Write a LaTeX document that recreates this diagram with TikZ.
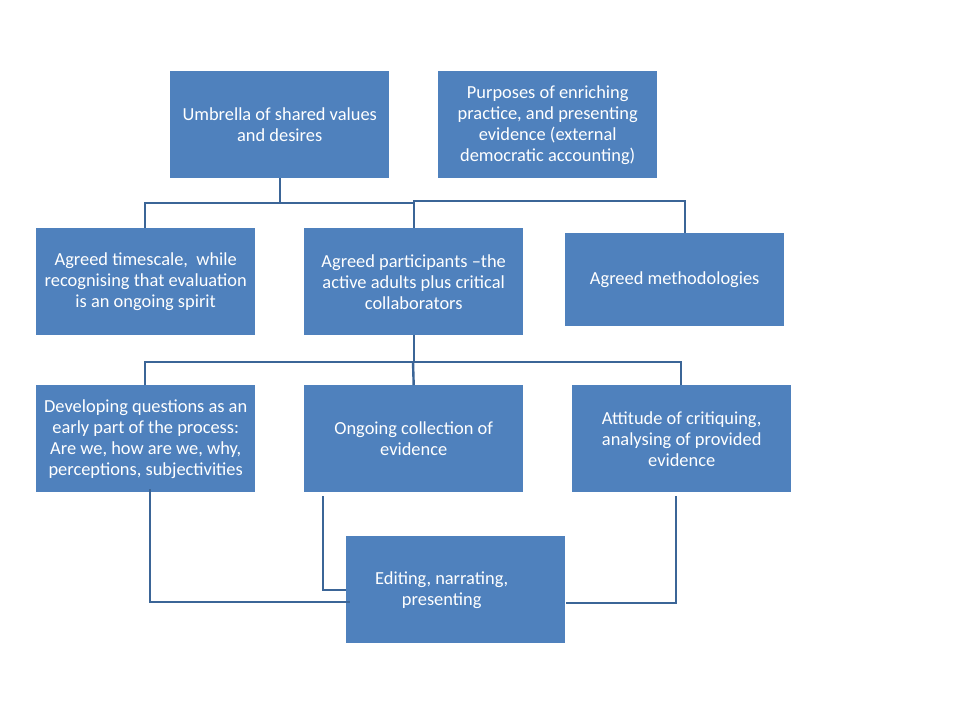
\documentclass[tikz,border=0pt]{standalone}
\usepackage{fontspec}
\setmainfont{Carlito}
\definecolor{boxblue}{HTML}{4F81BD}
\definecolor{lineblue}{HTML}{3B6597}
\begin{document}
\begin{tikzpicture}[x=1pt,y=-1pt,
  bx/.style={fill=boxblue, draw=none, anchor=north west, minimum width=219pt, minimum height=107pt,
     text=white, align=center, font=\fontsize{18.4}{21}\selectfont, inner sep=1pt},
  conn/.style={draw=lineblue, line width=2.4pt}]
\useasboundingbox[fill=white] (0,0) rectangle (960,720);
\node[bx] (umb) at (170,71) {Umbrella of shared values\\and desires};
\node[bx] (pur) at (438,71) {Purposes of enriching\\practice, and presenting\\evidence (external\\democratic accounting)};
\node[bx] (tim) at (36,228) {Agreed timescale,\ \ while\\recognising that evaluation\\is an ongoing spirit};
\node[bx] (par) at (304,228) {Agreed participants –the\\active adults plus critical\\collaborators};
\node[bx, minimum height=93pt] (met) at (565,233) {Agreed methodologies};
\node[bx] (dev) at (36,385) {Developing questions as an\\early part of the process:\\Are we, how are we, why,\\perceptions, subjectivities};
\node[bx] (ong) at (304,385) {Ongoing collection of\\evidence};
\node[bx] (att) at (572,385) {Attitude of critiquing,\\analysing of provided\\evidence};
\node[bx] (edi) at (346,536) {\hspace*{-28pt}Editing, narrating,\\\hspace*{-28pt}presenting};
% junction coordinates
\coordinate (j1) at (279,203);
\coordinate (j2) at (413,201);
\coordinate (j3) at (413,362);
\coordinate (d1) at (150,489);
\coordinate (d2) at (350,602);
\coordinate (o1) at (323,496);
\coordinate (o2) at (346,590);
\coordinate (a1) at (676,496);
\coordinate (a2) at (566,603);
% top level
\draw[conn] (umb.south) -- (umb.south |- j1);
\draw[conn] (tim.north -| 145,0) -- (145,0 |- j1) -- (j1 -| par.north) -- (par.north);
\draw[conn] (j2) -- (j2 -| 685,0) -- (met.north -| 685,0);
% second level
\draw[conn] (par.south) -- (par.south |- j3);
\draw[conn] (dev.north -| 145,0) -- (145,0 |- j3) -- (j3 -| 681,0) -- (att.north -| 681,0);
\draw[conn] (j3) -- (ong.north);
% to editing
\draw[conn] (d1) -- (d1 |- d2) -- (d2);
\draw[conn] (o1) -- (o1 |- o2) -- (o2);
\draw[conn] (a1) -- (a1 |- a2) -- (a2);
\end{tikzpicture}
\end{document}
